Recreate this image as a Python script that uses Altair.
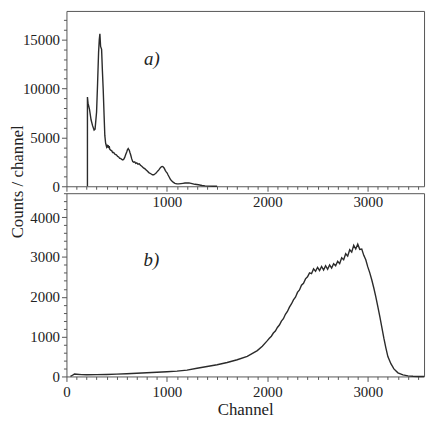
import altair as alt
import pandas as pd

# ---- data ----
top_ch = [209, 209, 215, 229, 245, 260, 275, 285, 300, 310, 320, 327, 333, 340, 350, 358, 366, 375, 382, 390,
          399, 405, 410, 415, 420, 426, 431, 440, 450, 460, 470, 485, 497, 510, 520, 530, 540, 550, 562, 572,
          580, 590, 600, 608, 615, 620, 625, 632, 640, 650, 660, 670, 680, 690, 700, 712, 725, 737, 750, 760,
          770, 780, 791, 805, 820, 840, 856, 870, 880, 890, 900, 910, 922, 932, 940, 948, 955, 962, 970, 978,
          985, 995, 1003, 1012, 1020, 1028, 1035, 1045, 1052, 1065, 1080, 1100, 1118, 1140, 1160, 1180, 1200,
          1220, 1240, 1260, 1280, 1314, 1350, 1380, 1420, 1460, 1500]
top_counts = [0, 9120, 8500, 7900, 6800, 6200, 5750, 5850, 7600, 10500, 13700, 15000, 15600, 14300, 14000,
              11800, 9900, 7200, 5200, 4400, 4050, 4250, 3950, 4200, 3900, 4100, 3800, 3700, 3650, 3450, 3450,
              3250, 3210, 3050, 3000, 2850, 2850, 2750, 2700, 2780, 2950, 3250, 3500, 3750, 3850, 3750, 3700,
              3450, 3200, 2800, 2530, 2450, 2500, 2350, 2400, 2250, 2300, 2150, 2050, 1950, 1850, 1800, 1690,
              1550, 1400, 1280, 1180, 1180, 1250, 1330, 1450, 1570, 1700, 1850, 1950, 2000, 2030, 2000, 1900,
              1750, 1600, 1450, 1350, 1150, 1000, 850, 700, 590, 510, 400, 300, 250, 240, 270, 300, 330, 350,
              340, 300, 250, 200, 150, 80, 40, 20, 8, 0]

bot_ch = [40, 60, 80, 100, 150, 200, 300, 400, 500, 600, 700, 800, 900, 1000, 1100, 1200, 1300, 1400, 1500,
          1600, 1700, 1800, 1900, 1950,
          2000, 2020, 2040, 2060, 2080, 2100, 2120, 2140, 2160, 2180, 2200, 2220, 2240, 2260, 2280, 2300,
          2320, 2340, 2360, 2380, 2400, 2420, 2440, 2460, 2480, 2500, 2520, 2540, 2560, 2580, 2600, 2620,
          2640, 2660, 2680, 2700, 2720, 2740, 2760, 2780, 2800, 2820, 2840, 2860, 2880, 2900, 2920, 2940,
          2960, 2980, 3000, 3020, 3040, 3060, 3080, 3100, 3120, 3140, 3160, 3180, 3200, 3230, 3260, 3300,
          3350, 3400, 3450, 3500, 3560]
bot_counts = [0, 30, 60, 55, 45, 42, 45, 50, 58, 68, 80, 92, 105, 118, 135, 160, 205, 250, 295,
              350, 420, 505, 650, 760,
              900, 960, 1010, 1090, 1140, 1230, 1290, 1390, 1450, 1560, 1630, 1740, 1820, 1920, 1990, 2110,
              2170, 2290, 2340, 2450, 2500, 2600, 2580, 2700, 2640, 2740, 2660, 2760, 2670, 2780, 2690, 2800,
              2720, 2830, 2780, 2890, 2830, 2980, 2930, 3080, 3020, 3180, 3120, 3290, 3200, 3320, 3190, 3200,
              3040, 2930, 2750, 2600, 2420, 2220, 2000, 1750, 1500, 1230, 960, 720, 500, 320, 190, 90,
              40, 15, 5, 0, 0]

x_ticks = list(range(0, 3600, 100))
top_y_ticks = list(range(0, 18000, 1000))
bot_y_ticks = list(range(0, 4700, 200))

panel_labels = ["a)", "b)"]
label_ch = [850, 845]
label_counts = [12970, 2910]

FONT = "Liberation Serif"
LINE = "#2b2b2b"
AX = "#555555"
W = 361

top_df = pd.DataFrame({"ch": top_ch, "counts": top_counts, "i": range(len(top_ch))})
bot_df = pd.DataFrame({"ch": bot_ch, "counts": bot_counts, "i": range(len(bot_ch))})
lab_a = pd.DataFrame({"ch": [label_ch[0]], "counts": [label_counts[0]], "t": [panel_labels[0]]})
lab_b = pd.DataFrame({"ch": [label_ch[1]], "counts": [label_counts[1]], "t": [panel_labels[1]]})


def cond(test, major, minor):
    return {"condition": {"test": test, "value": major}, "value": minor}


def x_axis(show_zero, title):
    test = "datum.value % 1000 === 0" + ("" if show_zero else " && datum.value > 0")
    kw = dict(values=x_ticks, format="d", labelExpr=f"{test} ? datum.label : ''",
              tickSize=cond("datum.value % 1000 === 0", 5, 3),
              labelFontSize=cond(test, 15, 0), labelFont=cond(test, FONT, FONT),
              labelColor="#222",
              labelOverlap=False, labelFlush=False, labelBound=False,
              domain=False, grid=False, labelPadding=3, tickColor=AX)
    if title:
        return alt.Axis(title=title, titlePadding=2, titleFont=FONT, titleFontSize=17,
                        titleFontWeight="normal", titleColor="#222", **kw)
    return alt.Axis(title=None, **kw)


def y_axis(values, step, title=None, **extra):
    test = f"datum.value % {step} === 0"
    kw = dict(values=values, format="d", labelExpr=f"{test} ? datum.label : ''",
              tickSize=cond(test, 5, 3), labelFontSize=cond(test, 15, 0),
              labelFont=cond(test, FONT, FONT), labelColor="#222",
              labelOverlap=False, labelFlush=False,
              domain=False, grid=False, labelPadding=2, tickColor=AX)
    if title:
        return alt.Axis(title=title, titleFont=FONT, titleFontSize=17, titleFontWeight="normal",
                        titleColor="#222", **kw, **extra)
    return alt.Axis(title=None, **kw)


xs = alt.Scale(domain=[0, 3560], nice=False, zero=False)

top_x = alt.X("ch:Q", scale=xs, axis=x_axis(False, None))
top_y = alt.Y("counts:Q", scale=alt.Scale(domain=[0, 17930], nice=False),
              axis=y_axis(top_y_ticks, 5000))
bot_x = alt.X("ch:Q", scale=xs, axis=x_axis(True, "Channel"))
bot_y = alt.Y("counts:Q", scale=alt.Scale(domain=[0, 4600], nice=False),
              axis=y_axis(bot_y_ticks, 1000, "Counts / channel",
                          titleX=-49, titleY=-12, titleAngle=270, titleAlign="center",
                          titleBaseline="middle"))

top_line = alt.Chart(top_df).mark_line(color=LINE, strokeWidth=1.4).encode(
    x=top_x, y=top_y, order="i:Q")
top_text = alt.Chart(lab_a).mark_text(font=FONT, fontSize=19, fontStyle="italic", color="#222",
                                      align="center", baseline="middle").encode(
    x=top_x, y=top_y, text="t:N")
top = alt.layer(top_line, top_text).properties(width=W, height=177)

bot_line = alt.Chart(bot_df).mark_line(color=LINE, strokeWidth=1.4).encode(
    x=bot_x, y=bot_y, order="i:Q")
bot_text = alt.Chart(lab_b).mark_text(font=FONT, fontSize=19, fontStyle="italic", color="#222",
                                      align="center", baseline="middle").encode(
    x=bot_x, y=bot_y, text="t:N")
bot = alt.layer(bot_line, bot_text).properties(width=W, height=185)

chart = alt.vconcat(top, bot, spacing=7, bounds="flush").properties(
    padding={"left": 0, "top": 0, "right": 0, "bottom": 0}
).configure(font=FONT).configure_axis(labelFont=FONT, titleFont=FONT).configure_view(
    stroke=AX, strokeWidth=1)

chart.save("out.html", embed_options={"renderer": "svg", "actions": False})
